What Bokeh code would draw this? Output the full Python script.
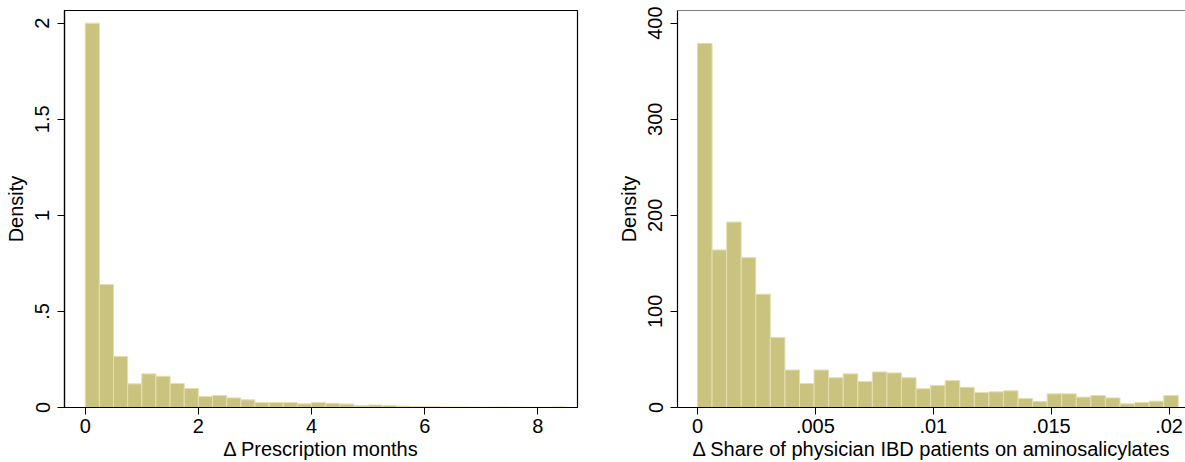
from bokeh.plotting import figure
from bokeh.layouts import row
from bokeh.models import Range1d, FixedTicker, ColumnDataSource, Span
from bokeh.embed import file_html
from bokeh.resources import INLINE

# ---- data ----
left_bin_start = 0.0
left_bin_width = 0.25
left_density = [2.00, 0.64, 0.266, 0.123, 0.175, 0.163, 0.125, 0.099,
                0.057, 0.0625, 0.050, 0.040, 0.026, 0.026, 0.026, 0.019,
                0.026, 0.022, 0.018, 0.009, 0.013, 0.011, 0.007, 0.005,
                0.004, 0.003, 0.003, 0.002, 0.002, 0.003, 0.002, 0.001,
                0.001, 0.003]
left_xticks = [0, 2, 4, 6, 8]
left_xlabels = ["0", "2", "4", "6", "8"]
left_yticks = [0, 0.5, 1, 1.5, 2]
left_ylabels = ["0", ".5", "1", "1.5", "2"]
left_xtitle = "\u0394 Prescription months"

right_bin_start = 0.0
right_bin_width = 0.02039 / 33
right_density = [379, 164, 193, 156, 118, 73, 39, 25, 39, 31, 35, 27, 37,
                 36, 31, 19.5, 23, 28, 21, 15.6, 16.3, 17.4, 9.4, 6.3, 14.2,
                 14.2, 10.8, 12.5, 10, 3.8, 5.2, 6.6, 12.5]
right_xticks = [0, 0.005, 0.01, 0.015, 0.02]
right_xlabels = ["0", ".005", ".01", ".015", ".02"]
right_yticks = [0, 100, 200, 300, 400]
right_ylabels = ["0", "100", "200", "300", "400"]
right_xtitle = "\u0394 Share of physician IBD patients on aminosalicylates"
ytitle = "Density"

FONT = "Liberation Sans"
FILL = "#C9C37F"
EDGE = "#E4DFB2"


def make_panel(width, xr, yr, borders, start, bw, dens, xt, xl, yt, yl, xtitle, outline=True):
    bl, br, bt, bb = borders
    p = figure(width=width, height=462, x_range=Range1d(*xr), y_range=Range1d(*yr),
               output_backend="svg", toolbar_location=None,
               min_border_left=bl, min_border_right=br,
               min_border_top=bt, min_border_bottom=bb)
    p.grid.visible = False
    p.background_fill_color = "white"
    p.border_fill_color = "white"
    if outline:
        p.outline_line_color = "black"
        p.outline_line_width = 1.2
    else:
        p.outline_line_color = None
    left = [start + i * bw for i in range(len(dens))]
    right = [start + (i + 1) * bw for i in range(len(dens))]
    src = ColumnDataSource(dict(left=left, right=right, top=dens, bottom=[0] * len(dens)))
    p.quad(left="left", right="right", top="top", bottom="bottom", source=src,
           fill_color=FILL, line_color=EDGE, line_width=1)

    for ax, ticks, labels in ((p.xaxis[0], xt, xl), (p.yaxis[0], yt, yl)):
        ax.ticker = FixedTicker(ticks=ticks)
        ax.major_label_overrides = {t: l for t, l in zip(ticks, labels)}
        ax.minor_tick_line_color = None
        ax.major_tick_in = 0
        ax.major_tick_out = 7
        ax.major_tick_line_color = "black"
        ax.axis_line_color = "black"
        ax.axis_line_width = 1.2
        ax.major_label_text_font = FONT
        ax.major_label_text_font_size = "20px"
        ax.major_label_text_color = "black"
        ax.axis_label_text_font = FONT
        ax.axis_label_text_font_size = "20px"
        ax.axis_label_text_font_style = "normal"
        ax.axis_label_text_color = "black"
    p.xaxis[0].axis_label = xtitle
    p.xaxis[0].major_label_standoff = 4
    p.xaxis[0].axis_label_standoff = 2
    p.yaxis[0].axis_label = ytitle
    p.yaxis[0].major_label_orientation = "vertical"
    p.yaxis[0].major_label_standoff = 8
    p.yaxis[0].axis_label_standoff = 6
    if not outline:
        p.add_layout(Span(location=yr[1], dimension="width", line_color="black", line_width=1.2))
    return p


p1 = make_panel(592, (-0.366, 8.70), (0, 2.066), (64, 15, 10, 55),
                left_bin_start, left_bin_width, left_density,
                left_xticks, left_xlabels, left_yticks, left_ylabels, left_xtitle)
p2 = make_panel(593, (-0.000848, 0.020696), (0, 413.2), (85, 0, 10, 55),
                right_bin_start, right_bin_width, right_density,
                right_xticks, right_xlabels, right_yticks, right_ylabels, right_xtitle,
                outline=False)

layout = row(p1, p2)
open("out.html", "w").write(file_html(layout, INLINE))
